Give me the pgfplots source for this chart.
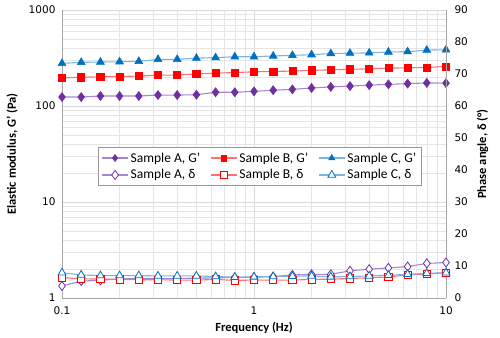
\documentclass[border=0pt]{standalone}
\usepackage{pgfplots}
\pgfplotsset{compat=1.18}
\usepackage{pgfplotstable}
\usepackage{fontspec}
\setmainfont{Carlito}
\newfontfamily\tickfont{DejaVu Sans}
\definecolor{pA}{HTML}{7030A0}
\definecolor{lA}{HTML}{A686D2}
\definecolor{pB}{HTML}{FF0000}
\definecolor{lB}{HTML}{FF7070}
\definecolor{pC}{HTML}{0070C0}
\definecolor{lC}{HTML}{7DB4E0}
\pgfplotstableread{
f GA GB GC dA dB dC
0.1 124 196 278 3.75 6.35 7.9
0.1259 124 199 285 5.3 6.0 7.2
0.1585 127 202 287 5.5 5.9 7.0
0.1995 127 203 289 6.0 5.8 7.0
0.2512 127 205 292 6.0 5.7 7.0
0.3162 130 210 306 6.0 5.7 6.9
0.3981 130 210 306 6.1 5.6 6.9
0.5012 131 216 315 6.2 5.6 6.9
0.631 139 220 319 6.3 5.8 6.7
0.7943 139 223 326 6.4 5.5 6.5
1 142 227 326 6.5 5.6 6.6
1.259 146 229 332 6.7 5.6 6.7
1.585 149 231 337 7.2 5.6 6.8
1.995 154 235 342 7.4 5.8 6.9
2.512 158 238 352 7.4 5.9 6.6
3.162 161 241 355 8.5 6.1 6.7
3.981 165 244 357 9.0 6.3 6.9
5.012 168 248 365 9.4 6.6 7.1
6.31 171 250 368 9.8 7.2 7.4
7.943 174 252 382 10.8 7.5 7.7
10 173 258 385 11.1 7.9 7.9
}\data
\tikzset{
  serA/.style={color=lA, line width=1.1pt, mark=diamond*, mark size=4.5pt, mark options={draw=pA, fill=pA, line width=0.6pt}},
  serB/.style={color=lB, line width=1.1pt, mark=square*, mark size=3.6pt, mark options={draw=pB, fill=pB, line width=0.6pt}},
  serC/.style={color=lC, line width=1.1pt, mark=triangle*, mark size=4.5pt, mark options={draw=pC, fill=pC, line width=0.6pt}},
  opnA/.style={color=lA, line width=1.1pt, mark=diamond*, mark size=4.5pt, mark options={draw=pA, fill=white, line width=0.8pt}},
  opnB/.style={color=lB, line width=1.1pt, mark=square*, mark size=3.6pt, mark options={draw=pB, fill=white, line width=0.8pt}},
  opnC/.style={color=lC, line width=1.1pt, mark=triangle*, mark size=4.5pt, mark options={draw=pC, fill=white, line width=0.8pt}},
}
\begin{document}
\begin{tikzpicture}
\begin{axis}[
  scale only axis, width=384pt, height=288pt,
  xmin=0.1, xmax=10,
  xmode=log, ymode=log, ymin=1, ymax=1000,
  log ticks with fixed point,
  /pgf/number format/1000 sep={},
  /pgf/number format/assume math mode=true,
  ytick={1,10,100,1000},
  xtick={0.1,1,10},
  major tick length=0pt, minor tick length=0pt,
  tick label style={font=\tickfont\fontsize{10.5}{12}\selectfont},
  xticklabel style={yshift=-5pt},
  yticklabel style={xshift=-3pt},
  label style={font=\bfseries\fontsize{12.5}{14}\selectfont},
  xlabel style={yshift=-1pt},
  ylabel style={yshift=4pt},
  axis line style={gray!70},
  axis y line*=left, axis x line*=bottom,
  grid=both,
  major grid style={gray!30, line width=0.7pt},
  minor grid style={gray!20, line width=0.6pt},
  xlabel={Frequency (Hz)},
  ylabel={Elastic modulus, G' (Pa)},
]
\addplot[serA] table[x=f,y=GA]{\data};
\addplot[serB] table[x=f,y=GB]{\data};
\addplot[serC] table[x=f,y=GC]{\data};
\end{axis}
\begin{axis}[
  scale only axis, width=384pt, height=288pt,
  xmin=0.1, xmax=10, xmode=log,
  ymin=0, ymax=90, ytick={0,10,...,90},
  /pgf/number format/assume math mode=true,
  major tick length=0pt, minor tick length=0pt,
  tick label style={font=\tickfont\fontsize{10.5}{12}\selectfont},
  yticklabel style={xshift=5pt},
  label style={font=\bfseries\fontsize{12.5}{14}\selectfont},
  ylabel style={yshift=-2pt},
  axis line style={gray!70},
  axis y line*=right, axis x line=none,
  ylabel={Phase angle, δ (°)},
  legend columns=3,
  legend image code/.code={\draw[mark repeat=2,mark phase=2] plot coordinates {(0pt,0pt) (13pt,0pt) (26pt,0pt)};},
  legend style={at={(0.094,0.524)}, anchor=north west, draw=gray!80, line width=0.9pt,
    font=\fontsize{13.5}{15}\selectfont, row sep=2pt, inner sep=3pt,
    /tikz/every even column/.append style={column sep=8pt}},
  legend cell align=left,
]
\addlegendimage{serA, mark size=3.5pt}
\addlegendentry{Sample A, G'}
\addlegendimage{serB, mark size=2.8pt}
\addlegendentry{Sample B, G'}
\addlegendimage{serC, mark size=3.5pt}
\addlegendentry{Sample C, G'}
\addplot[opnA] table[x=f,y=dA]{\data};
\addlegendentry{Sample A, δ}
\addplot[opnB] table[x=f,y=dB]{\data};
\addlegendentry{Sample B, δ}
\addplot[opnC] table[x=f,y=dC]{\data};
\addlegendentry{Sample C, δ}
\end{axis}
\path ([xshift=-62pt,yshift=-40pt]current axis.south west) rectangle ([xshift=54pt,yshift=10pt]current axis.north east);
\end{tikzpicture}
\end{document}
